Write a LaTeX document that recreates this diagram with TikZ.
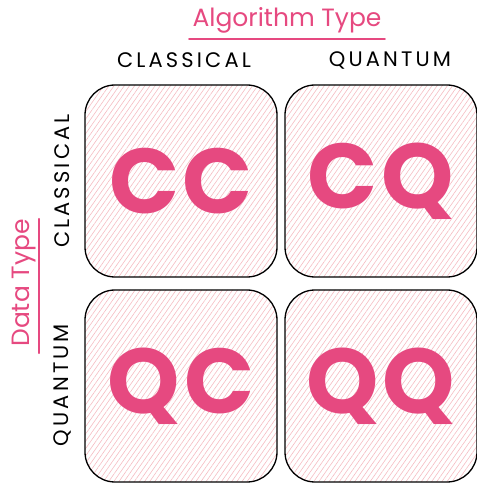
\documentclass[tikz,border=0pt]{standalone}
\usepackage{fontspec}
\setmainfont{Poppins}
\usepackage{xcolor}
\usepackage{tikz}
\usetikzlibrary{patterns.meta, calc}
\definecolor{penPink}{HTML}{E64980}
\definecolor{hatchPink}{HTML}{F5BCC2}

\begin{document}
\begin{tikzpicture}[x=1pt, y=1pt,
    cell/.style={draw=black, line width=1.3pt, rounded corners=30pt,
      minimum width=192pt, minimum height=192pt,
      pattern={Lines[angle=55, distance=4.2pt, line width=0.6pt]},
      pattern color=hatchPink, text=penPink,
      font=\fontsize{92}{92}\selectfont\bfseries\addfontfeature{LetterSpace=4}},
    axislabel/.style={font=\fontsize{21}{21}\selectfont\addfontfeature{LetterSpace=15}},
    heading/.style={text=penPink, font=\fontsize{25}{25}\selectfont},
    underline/.style={draw=penPink, line width=2pt, line cap=round}]
  \useasboundingbox (0,0) rectangle (477,483);

  % Quadrants
  \node[cell] (cc) at (181,302) {CC};
  \node[cell] (cq) at (381,302) {CQ};
  \node[cell] (qc) at (181,97) {QC};
  \node[cell] (qq) at (381,97) {QQ};

  % Algorithm axis
  \node[heading] (algo) at (287,463) {Algorithm Type};
  \draw[underline] ([yshift=-3pt]algo.south west) -- ([yshift=-3pt]algo.south east);
  \node[axislabel] (topclass) at (184,423) {CLASSICAL};
  \node[axislabel] (topquant) at (390,423) {QUANTUM};

  % Data axis
  \node[heading, rotate=90] (data) at (24,200) {Data Type};
  \draw[underline] ([yshift=-3pt]data.south west) -- ([yshift=-3pt]data.south east);
  \node[axislabel, rotate=90] (sideclass) at (62,302) {CLASSICAL};
  \node[axislabel, rotate=90] (sidequant) at (62,98) {QUANTUM};

\end{tikzpicture}
\end{document}
